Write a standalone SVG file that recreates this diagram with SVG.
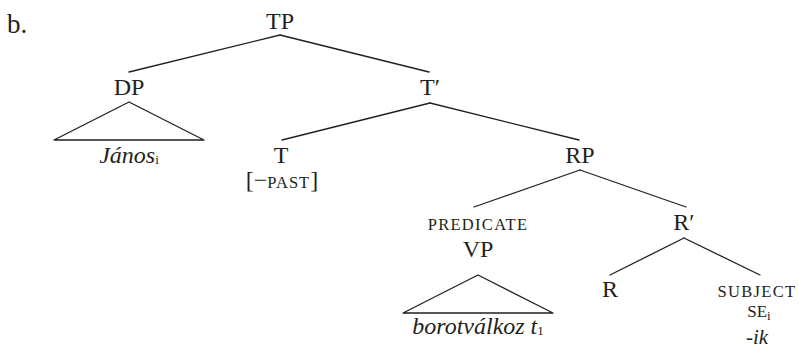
<svg xmlns="http://www.w3.org/2000/svg" width="799" height="353" viewBox="0 0 799 353">
  <style>
    text { font-family: 'Liberation Serif', 'Times New Roman', 'DejaVu Serif', serif; }
    .lbl { font-size: 24px; fill: #231f20; text-anchor: middle; }
    .it { font-style: italic; }
    .sc { font-size: 16.5px; letter-spacing: 1.3px; }
    .sub { font-size: 13px; font-style: normal; }
    .edge { stroke: #231f20; stroke-width: 1.3; fill: none; stroke-linecap: round; stroke-linejoin: round; }
  </style>

  <g font-family="Liberation Serif, Times New Roman, DejaVu Serif, serif">
  <text class="lbl" x="7" y="33" style="text-anchor:start; font-size:27px">b.</text>

  <!-- branches -->
  <g id="connectors">
    <line class="edge" x1="280" y1="35" x2="129" y2="72"/>
    <line class="edge" x1="280" y1="35" x2="429" y2="72"/>
    <line class="edge" x1="430" y1="103" x2="282" y2="140"/>
    <line class="edge" x1="430" y1="103" x2="579" y2="140"/>
    <line class="edge" x1="580" y1="170" x2="474" y2="207"/>
    <line class="edge" x1="580" y1="170" x2="686" y2="207"/>
    <line class="edge" x1="684" y1="238" x2="610" y2="275"/>
    <line class="edge" x1="684" y1="238" x2="760" y2="275"/>
  </g>

  <g id="TP"><text class="lbl" x="280" y="29">TP</text></g>

  <g id="DP">
    <text class="lbl" x="129" y="95">DP</text>
    <polygon class="edge" points="129,102 54,140 204,140"/>
    <text class="lbl it" x="129" y="163">János<tspan class="sub" dy="1">i</tspan></text>
  </g>

  <g id="Tbar"><text class="lbl" x="430" y="95">T′</text></g>

  <g id="T">
    <text class="lbl" x="281" y="163">T</text>
    <text class="lbl" x="282" y="188">[−<tspan class="sc" style="letter-spacing:1px">PAST</tspan>]</text>
  </g>

  <g id="RP"><text class="lbl" x="580" y="163">RP</text></g>

  <g id="VP">
    <text class="lbl sc" x="478" y="230">PREDICATE</text>
    <text class="lbl" x="478" y="257">VP</text>
    <polygon class="edge" points="478,275 403,313 553,313"/>
    <text class="lbl it" x="478" y="334">borotválkoz t<tspan class="sub" dy="1">1</tspan></text>
  </g>

  <g id="Rbar"><text class="lbl" x="684" y="230">R′</text></g>

  <g id="R"><text class="lbl" x="610" y="297">R</text></g>

  <g id="SUBJ">
    <text class="lbl sc" x="757" y="297">SUBJECT</text>
    <text class="lbl" x="759" y="317"><tspan style="font-size:17px">SE</tspan><tspan class="sub" dy="3">i</tspan></text>
    <text class="lbl it" x="757" y="344" style="font-size:21px">-ik</text>
  </g>
  </g>
</svg>
